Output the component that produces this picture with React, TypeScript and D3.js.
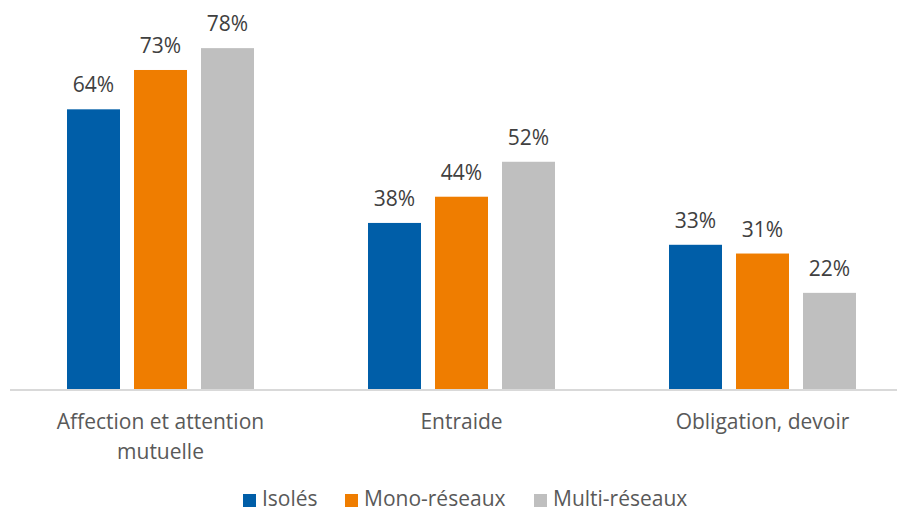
import React from "react";
import * as d3 from "d3";

const categories = [["Affection et attention", "mutuelle"], ["Entraide"], ["Obligation, devoir"]];
const seriesNames = ["Isolés", "Mono-réseaux", "Multi-réseaux"];
const isoles = [64, 38, 33];
const mono = [73, 44, 31];
const multi = [78, 52, 22];
const colors = ["#005ea8", "#ef7d00", "#bfbfbf"];

const W = 897;
const H = 511;
const baseline = 389;
const FONT = "'Open Sans', 'Noto Sans', sans-serif";

export default function App() {
  const series = [isoles, mono, multi];
  const x = d3.scaleBand<number>().domain([0, 1, 2]).range([10, 913]).paddingInner(0).paddingOuter(0);
  const inner = d3.scaleBand<number>().domain([0, 1, 2]).range([57, 244]).paddingInner(14 / 67).paddingOuter(0);
  const y = d3.scaleLinear().domain([0, 100]).range([baseline, baseline - 437]);
  const legendX = [243, 345, 534];
  return (
    <svg width={W} height={H} style={{ position: "absolute", left: 0, top: 0, background: "#fff" }}>
      {categories.map((_, ci) =>
        series.map((s, si) => {
          const bx = (x(ci) as number) + (inner(si) as number);
          const bw = inner.bandwidth();
          return (
            <g key={`${ci}-${si}`}>
              <rect x={bx} y={y(s[ci])} width={bw} height={baseline - y(s[ci])} fill={colors[si]} />
              <text x={bx + bw / 2} y={y(s[ci]) - 17} textAnchor="middle" fontFamily={FONT} fontSize={21} fill="#404040">
                {s[ci]}%
              </text>
            </g>
          );
        })
      )}
      <line x1={10} x2={913} y1={baseline + 1} y2={baseline + 1} stroke="#d9d9d9" strokeWidth={2} />
      {categories.map((lines, ci) => (
        <text key={ci} textAnchor="middle" fontFamily={FONT} fontSize={21} fill="#595959">
          {lines.map((l, li) => (
            <tspan key={li} x={(x(ci) as number) + x.bandwidth() / 2} y={429 + li * 30}>
              {l}
            </tspan>
          ))}
        </text>
      ))}
      {seriesNames.map((n, i) => (
        <g key={n}>
          <rect x={legendX[i]} y={494} width={13} height={13} fill={colors[i]} />
          <text x={legendX[i] + 19} y={506} fontFamily={FONT} fontSize={21} fill="#595959">
            {n}
          </text>
        </g>
      ))}
    </svg>
  );
}
